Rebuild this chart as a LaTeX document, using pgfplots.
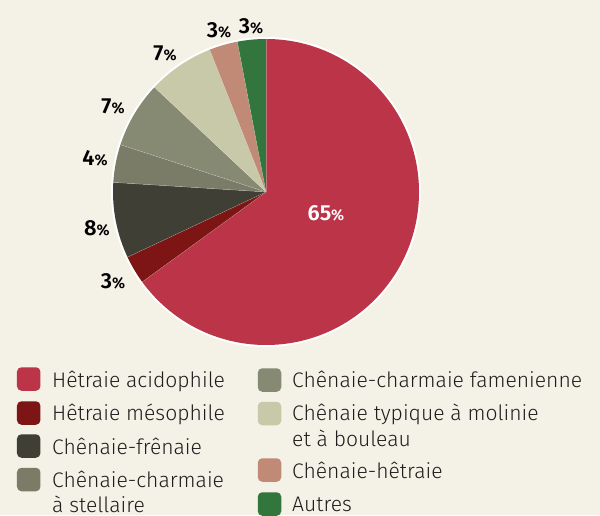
\documentclass[border=0pt]{standalone}
\usepackage{pgfplots}
\pgfplotsset{compat=1.18}
\usepackage{fontspec}
\setmainfont{Fira Sans}
\newfontfamily\lightfont{Fira Sans Light}
\newfontfamily\semifont{Fira Sans SemiBold}
\definecolor{bg}{HTML}{F4F1E6}
\definecolor{cA}{HTML}{BB3447}
\definecolor{cB}{HTML}{7D1515}
\definecolor{cC}{HTML}{403F35}
\definecolor{cD}{HTML}{7A7C68}
\definecolor{cE}{HTML}{868A73}
\definecolor{cF}{HTML}{C8C9A8}
\definecolor{cG}{HTML}{C08A77}
\definecolor{cH}{HTML}{32763E}
\definecolor{txt}{HTML}{1E1E1E}
% slice: start angle, percent, colour
\newcommand{\slice}[3]{%
  \fill[#3] (axis cs:266,323) -- ++({#1}:153bp) arc[start angle={#1}, delta angle={-3.6*(#2)}, radius=153bp] -- cycle;
  \draw[white, opacity=0.35, line width=0.4bp] (axis cs:266,323) -- ++({#1}:153bp);}
\newcommand{\pct}[1]{{\semifont #1{\fontsize{15.3bp}{16bp}\selectfont\%}}}
\newcommand{\legsq}[3]{%
  \fill[#3, rounded corners=4.5bp] (axis cs:#1-11.75,#2-11.75) rectangle (axis cs:#1+11.75,#2+11.75);}
\begin{document}
\begin{tikzpicture}
\begin{axis}[
  width=600bp, height=515bp, scale only axis,
  xmin=0, xmax=600, ymin=0, ymax=515,
  hide axis, clip=false]
\fill[bg] (axis cs:0,0) rectangle (axis cs:600,515);
% pie: values (percent) 65, 3, 8, 4, 7, 7, 3, 3, clockwise from top
\fill[white] (axis cs:266,323) circle[radius=155bp];
\slice{90}{65}{cA}
\slice{90-3.6*65}{3}{cB}
\slice{90-3.6*(65+3)}{8}{cC}
\slice{90-3.6*(65+3+8)}{4}{cD}
\slice{90-3.6*(65+3+8+4)}{7}{cE}
\slice{90-3.6*(65+3+8+4+7)}{7}{cF}
\slice{90-3.6*(65+3+8+4+7+7)}{3}{cG}
\slice{90-3.6*(65+3+8+4+7+7+3)}{3}{cH}
% labels
\begin{scope}[every node/.style={font=\fontsize{21.8bp}{22bp}\selectfont, text=black, inner sep=0pt}]
\node at (axis cs:326,302) [text=white] {\pct{65}};
\node at (axis cs:113,234) {\pct{3}};
\node at (axis cs:97,287) {\pct{8}};
\node at (axis cs:95,357) {\pct{4}};
\node at (axis cs:113,409) {\pct{7}};
\node at (axis cs:165,462) {\pct{7}};
\node at (axis cs:219,485) {\pct{3}};
\node at (axis cs:251,489) {\pct{3}};
\end{scope}
% legend
\legsq{28.7}{136}{cA}
\legsq{28.7}{102}{cB}
\legsq{28.7}{69}{cC}
\legsq{28.7}{35.5}{cD}
\legsq{269.5}{135}{cE}
\legsq{269.5}{101.5}{cF}
\legsq{269.5}{45}{cG}
\legsq{269.5}{11}{cH}
\begin{scope}[every node/.style={font=\lightfont\fontsize{21.1bp}{22bp}\selectfont, text=txt, inner sep=0pt, anchor=base west}]
\node at (axis cs:52,127.7) {Hêtraie acidophile};
\node at (axis cs:52,94.5) {Hêtraie mésophile};
\node at (axis cs:52,61) {Chênaie-frênaie};
\node at (axis cs:52,28) {Chênaie-charmaie};
\node at (axis cs:52,2.5) {à stellaire};
\node at (axis cs:292,127.7) {Chênaie-charmaie famenienne};
\node at (axis cs:292,95) {Chênaie typique à molinie};
\node at (axis cs:292,68.3) {et à bouleau};
\node at (axis cs:292,37) {Chênaie-hêtraie};
\node at (axis cs:292,3.5) {Autres};
\end{scope}
\end{axis}
\pgfresetboundingbox
\path[use as bounding box] (current axis.south west) rectangle (current axis.north east);
\end{tikzpicture}
\end{document}
